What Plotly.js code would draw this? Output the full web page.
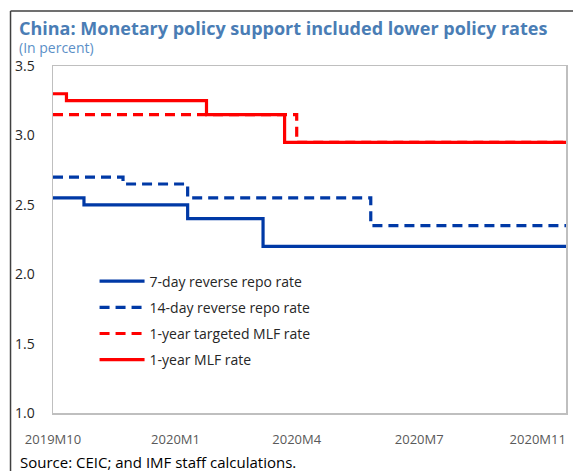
<!DOCTYPE html>
<html>
<head>
<meta charset="utf-8">
<script src="https://cdn.plot.ly/plotly-3.0.1.min.js"></script>
<style>html,body{margin:0;padding:0;background:#fff;}#chart{width:573px;height:471px;}</style>
</head>
<body>
<div id="chart"></div>
<script>
// ---- data ----
var repo7Dates   = ['2019-10-26','2019-11-18','2020-02-03','2020-03-30','2020-11-10'];
var repo7Values  = [2.55, 2.50, 2.40, 2.20, 2.20];
var repo14Dates  = ['2019-10-26','2019-12-17','2020-02-03','2020-06-18','2020-11-10'];
var repo14Values = [2.70, 2.65, 2.55, 2.35, 2.35];
var tmlfDates    = ['2019-10-26','2020-04-24','2020-11-10'];
var tmlfValues   = [3.15, 2.95, 2.95];
var mlfDates     = ['2019-10-26','2019-11-05','2020-02-17','2020-04-15','2020-11-10'];
var mlfValues    = [3.30, 3.25, 3.15, 2.95, 2.95];
var seriesNames  = ['7-day reverse repo rate','14-day reverse repo rate','1-year targeted MLF rate','1-year MLF rate'];
var xTickVals    = ['2019-10-26','2020-01-25','2020-04-24','2020-07-24','2020-10-20'];
var xTickText    = ['2019M10','2020M1','2020M4','2020M7','2020M11'];
var yTickVals    = [1.0, 1.5, 2.0, 2.5, 3.0, 3.5];

var BLUE = '#0039a6', RED = '#ff0000';
var font = '"Open Sans", "Noto Sans", sans-serif';

function tr(x, y, name, color, dash, group) {
  return {x: x, y: y, name: name, type: 'scatter', mode: 'lines',
          line: {shape: 'hv', color: color, width: 3.2, dash: dash},
          legendgroup: group, hoverinfo: 'skip'};
}
var data = [
  tr(repo7Dates, repo7Values, seriesNames[0], BLUE, 'solid', 'a'),
  tr(repo14Dates, repo14Values, seriesNames[1], BLUE, '10px,6px', 'b'),
  tr(tmlfDates, tmlfValues, seriesNames[2], RED, '10px,6px', 'c'),
  tr(mlfDates, mlfValues, seriesNames[3], RED, 'solid', 'd')
];

var layout = {
  width: 573, height: 471,
  margin: {l: 52.5, r: 7.3, t: 66, b: 58, pad: 0},
  paper_bgcolor: '#fff', plot_bgcolor: '#fff',
  font: {family: font, size: 13, color: '#262626'},
  showlegend: true,
  legend: {x: 0.081, y: 0.425, xanchor: 'left', yanchor: 'top', bgcolor: 'rgba(0,0,0,0)',
           font: {family: font, size: 14, color: '#262626'}, itemwidth: 45, tracegroupgap: 5},
  xaxis: {type: 'date', range: ['2019-10-26','2020-11-10'], tickmode: 'array',
          tickvals: xTickVals, ticktext: xTickText, showgrid: false, zeroline: false,
          showline: true, mirror: true, linecolor: '#bfbfbf', linewidth: 1.5,
          ticks: '', ticklabelstandoff: 14, tickfont: {family: font, size: 13, color: '#595959'}},
  yaxis: {range: [1.0, 3.5], tickmode: 'array', tickvals: yTickVals, tickformat: '.1f',
          showgrid: false, zeroline: false, showline: true, mirror: true,
          linecolor: '#bfbfbf', linewidth: 1.5, ticks: '', ticklabelstandoff: 14,
          tickfont: {family: font, size: 14, color: '#262626'}},
  annotations: [
    {text: '<span style="font-size:18px;color:#4a7db5"><b>China: Monetary policy support included lower policy rates</b></span><br>(In percent)',
     xref: 'paper', yref: 'paper', align: 'left', borderpad: 0,
     x: -0.068, y: 1.085, xanchor: 'left', yanchor: 'middle', showarrow: false,
     font: {family: font, size: 14, color: '#5b8fc7'}},
    {text: 'Source: CEIC; and IMF staff calculations.', xref: 'paper', yref: 'paper',
     x: -0.068, y: -0.142, xanchor: 'left', yanchor: 'middle', showarrow: false,
     font: {family: font, size: 15, color: '#000'}}
  ],
  shapes: [
    {type: 'line', xref: 'paper', yref: 'paper', x0: -0.0828, x1: -0.0828, y0: 1.1585, y1: -0.2,
     line: {color: '#404040', width: 1.5}},
    {type: 'line', xref: 'paper', yref: 'paper', x0: -0.0828, x1: 1.02, y0: 1.1585, y1: 1.1585,
     line: {color: '#404040', width: 1.5}}
  ]
};
Plotly.newPlot('chart', data, layout, {displayModeBar: false, staticPlot: true});
</script>
</body>
</html>
